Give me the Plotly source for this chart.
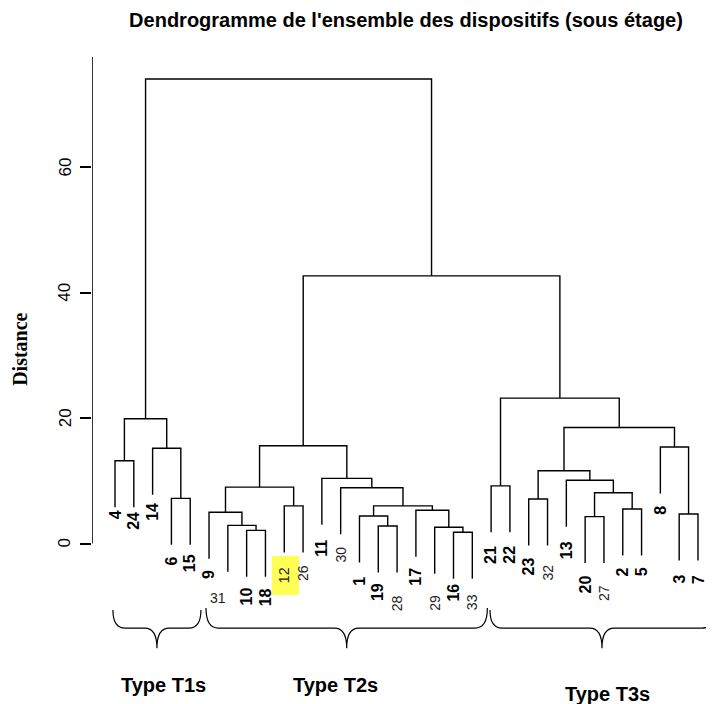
import plotly.graph_objects as go

# leaf labels, left to right as drawn
leaf_order = [4, 24, 14, 6, 15, 9, 31, 10, 18, 12, 26, 11, 30, 1, 19, 28, 17,
              29, 16, 33, 21, 22, 23, 32, 13, 20, 27, 2, 5, 8, 3, 7]

# hclust-style merge table: negative = leaf label, positive = earlier merge (1-based)
merge_left = [-16, -10, -29, -19, -31, -1, -20, -3, -9, -17, -2, -12, 6, -23, -6,
              7, -30, 9, -21, -13, -11, 14, -4, -14, -8, 18, 22, 23, 19, 26, 28]
merge_right = [-33, -18, 1, -28, 2, 4, -27, -7, 5, 3, -5, -26, 10, -32, -15,
               11, 13, 12, -22, 16, 17, 20, -24, 15, 8, 21, 25, 24, 27, 29, 30]
merge_height = [1.8, 2.1, 2.6, 2.8, 2.9, 4.4, 4.3, 4.7, 5.0, 5.3, 5.5, 6.0, 6.0, 7.1, 7.2,
                8.1, 8.9, 9.0, 9.2, 10.1, 10.4, 11.6, 13.2, 15.2, 15.4, 15.6, 18.5, 19.9,
                23.2, 42.7, 74.1]

# labels printed in a lighter, regular face
thin_labels = [31, 12, 26, 30, 28, 29, 33, 32, 27]

groups = ["Type T1s", "Type T2s", "Type T3s"]
y_ticks = [0, 20, 40, 60]

# --- layout tweaks (label placement as in the original figure) ---
label_y = {4: 4.5, 24: 3.6, 14: 5.0, 6: -2.8, 15: -3.1, 9: -5.0, 31: -8.7, 10: -8.5,
           18: -8.5, 12: -5.0, 26: -4.7, 11: -0.7, 30: -1.8, 1: -6.0, 19: -7.7,
           28: -9.5, 17: -5.3, 29: -9.5, 16: -7.9, 33: -9.3, 21: -1.8, 22: -1.8,
           23: -3.7, 32: -4.7, 13: -1.0, 20: -6.5, 27: -7.9, 2: -4.5, 5: -4.5,
           8: 5.3, 3: -5.7, 7: -5.7}
brace_span = [(0.89, 5.57), (5.84, 20.80), (20.94, 32.85)]
brace_top = [-10.6, -10.3, -10.6]
group_label_pos = [(3.6, -22.6), (12.7, -22.6), (27.2, -24.0)]

FONT = "Liberation Sans, Arial, sans-serif"

pos = {leaf: i + 1 for i, leaf in enumerate(leaf_order)}
hang = 0.1 * max(merge_height)

node_x, node_h = {}, {}
xs, ys = [], []


def child(ref, h):
    if ref < 0:
        return pos[-ref], h - hang
    return node_x[ref], node_h[ref]


for k, (a, b, h) in enumerate(zip(merge_left, merge_right, merge_height), start=1):
    xa, ya = child(a, h)
    xb, yb = child(b, h)
    xs += [xa, xa, xb, xb, None]
    ys += [ya, h, h, yb, None]
    node_x[k] = (xa + xb) / 2
    node_h[k] = h

# page body adds an 8px offset, so the margins are shifted by that much
x_min = 1 - 23 / 18.806
x_max = x_min + 622 / 18.806

fig = go.Figure()

fig.add_trace(go.Scatter(x=xs, y=ys, mode="lines",
                         line=dict(color="black", width=1.4),
                         hoverinfo="skip", showlegend=False))

# y axis line (stops at the top as in R's plot)
fig.add_trace(go.Scatter(x=[x_min, x_min], y=[0, 77.6], mode="lines",
                         line=dict(color="black", width=1.6),
                         cliponaxis=False, hoverinfo="skip", showlegend=False))

# yellow highlight behind leaf 12
fig.add_shape(type="rect", x0=pos[12] - 0.66, x1=pos[12] + 0.78, y0=-8.2, y1=-2.0,
              fillcolor="#ffff55", line=dict(width=0), layer="below")

annotations = []
for leaf in leaf_order:
    thin = leaf in thin_labels
    txt = str(leaf) if thin else "<b>%d</b>" % leaf
    x = pos[leaf]
    angle = -90
    if leaf == 31:
        angle = 0
        x = pos[leaf] - 0.5
    annotations.append(dict(x=x, y=label_y[leaf], text=txt, showarrow=False,
                            textangle=angle, xanchor="center", yanchor="middle",
                            font=dict(family=FONT, size=14 if thin else 16,
                                      color="#222" if thin else "black")))

# tick labels, rotated like R's default
for t in y_ticks:
    annotations.append(dict(x=-27 / 622, xref="paper", y=t, text=str(t), showarrow=False,
                            textangle=-90, xanchor="center", yanchor="middle",
                            font=dict(family=FONT, size=17, color="black")))

# curly braces under the groups
for (x0, x1), yt in zip(brace_span, brace_top):
    ym, ytip = -13.5, -16.7
    xm = (x0 + x1) / 2
    r = 0.65
    path = ("M %f,%f Q %f,%f %f,%f L %f,%f Q %f,%f %f,%f Q %f,%f %f,%f L %f,%f Q %f,%f %f,%f"
            % (x0, yt, x0, ym, x0 + r, ym, xm - r, ym, xm, ym, xm, ytip,
               xm, ym, xm + r, ym, x1 - r, ym, x1, ym, x1, yt))
    fig.add_shape(type="path", path=path, line=dict(color="black", width=1.2))

for name, (gx, gy) in zip(groups, group_label_pos):
    annotations.append(dict(x=gx, y=gy, text="<b>%s</b>" % name, showarrow=False,
                            xanchor="center", yanchor="middle",
                            font=dict(family=FONT, size=20, color="black")))

annotations.append(dict(x=-72 / 622, xref="paper", y=30.9, text="<b>Distance</b>",
                        showarrow=False, textangle=-90, xanchor="center", yanchor="middle",
                        font=dict(family="Liberation Serif, Times New Roman, serif",
                                  size=20, color="black")))

fig.update_layout(
    width=714, height=704,
    margin=dict(l=84, r=8, t=34, b=18),
    plot_bgcolor="white", paper_bgcolor="white",
    title=dict(text="<b>Dendrogramme de l'ensemble des dispositifs (sous étage)</b>",
               x=398 / 714, xanchor="center", y=1 - 12 / 704, yanchor="middle",
               font=dict(family=FONT, size=20, color="black")),
    xaxis=dict(range=[x_min, x_max], visible=False),
    yaxis=dict(range=[-24, 80], tickvals=y_ticks, ticks="outside", ticklen=11,
               tickwidth=1.5, tickcolor="black", showticklabels=False,
               showgrid=False, zeroline=False, showline=False),
    annotations=annotations,
    showlegend=False,
)

fig.write_html("out.html")
